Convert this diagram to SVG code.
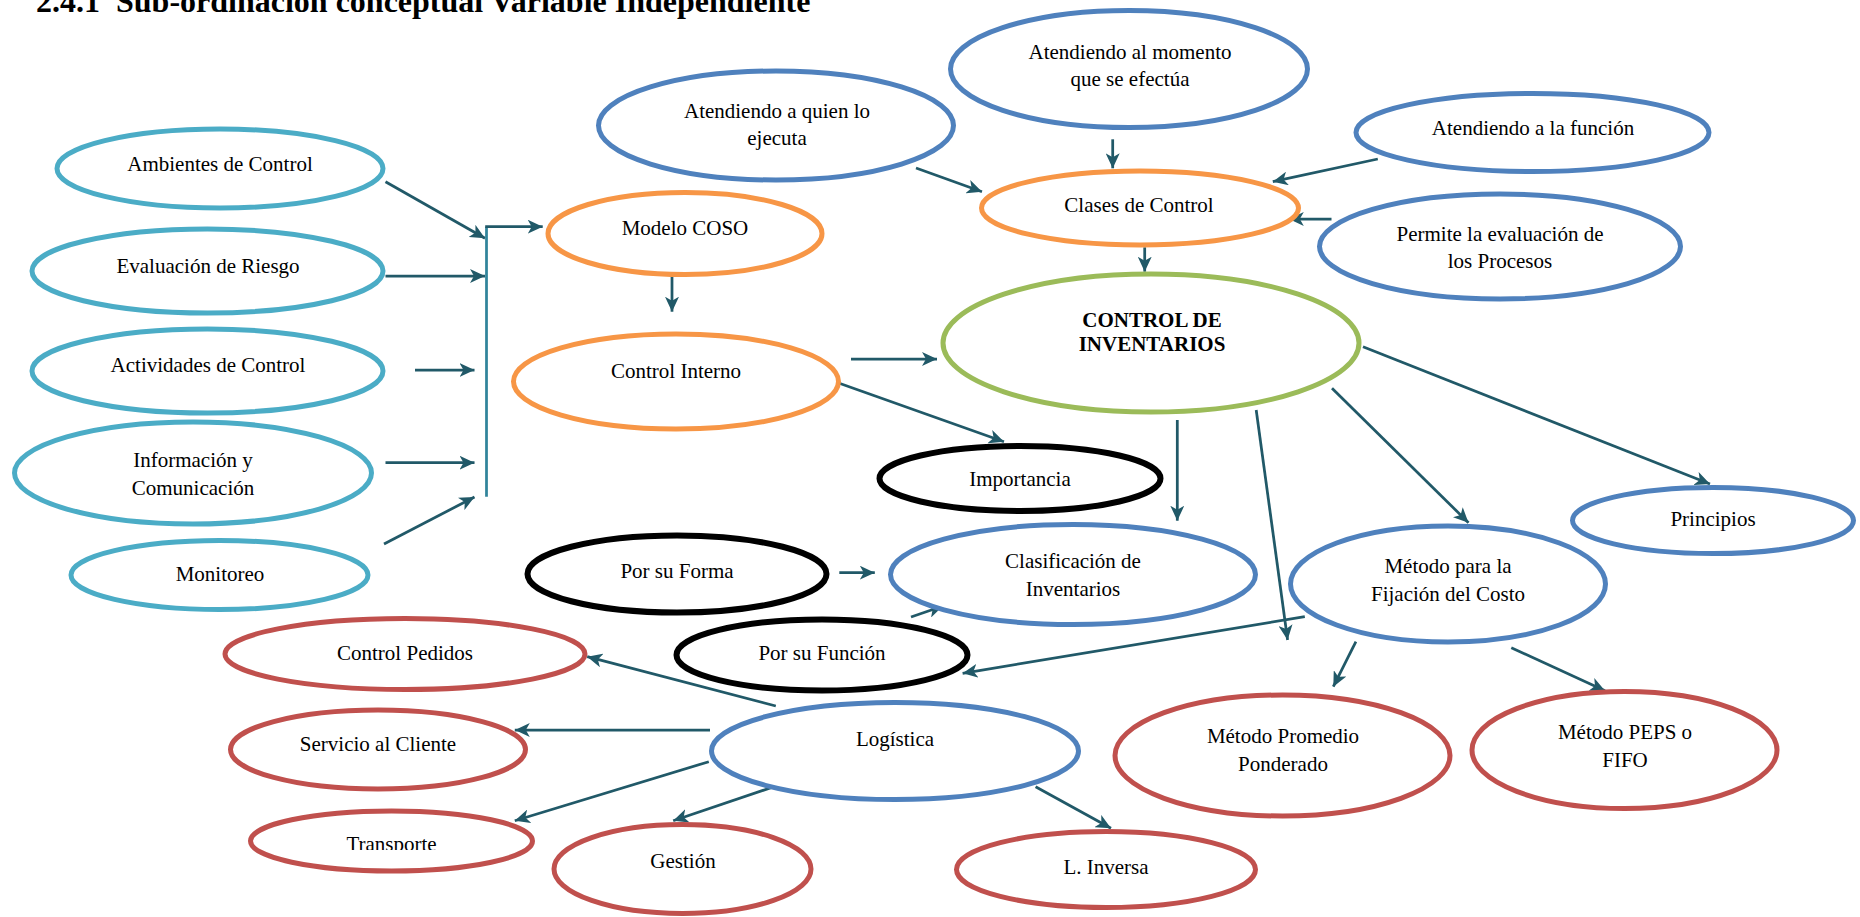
<svg xmlns="http://www.w3.org/2000/svg" width="1860" height="917" viewBox="0 0 1860 917">
  <style>
    text { font-family: "Liberation Serif", "Times New Roman", serif; font-size: 21px; fill: #000; text-anchor: middle; }
    .title { font-size: 32px; font-weight: bold; text-anchor: start; white-space: pre; }
    .bold { font-weight: bold; }
    ellipse { fill: #fff; stroke-width: 5; }
    .cyan ellipse { stroke: #4BACC6; }
    .orange ellipse { stroke: #F79646; }
    .blue ellipse { stroke: #4F81BD; }
    .green ellipse { stroke: #9BBB59; }
    .red ellipse { stroke: #C0504D; }
    .black ellipse { stroke: #000; stroke-width: 6; }
    #connectors path { fill: none; stroke: #215968; stroke-width: 2.75; }
    #connectors path.arrow { marker-end: url(#stealth); }
    #connectors path.bus { stroke: #31849B; }
  </style>
  <defs>
    <marker id="stealth" viewBox="0 0 15 14" refX="15" refY="7" markerWidth="15" markerHeight="14" markerUnits="userSpaceOnUse" orient="auto">
      <path d="M0,0 L15,7 L0,14 L4,7 z" fill="#215968"/>
    </marker>
    <clipPath id="clipTransporte">
      <rect x="0" y="0" width="1860" height="850"/>
    </clipPath>
  </defs>

  <rect width="1860" height="917" fill="#fff"/>

  <text class="title" x="36" y="12">2.4.1  Sub-ordinación conceptual Variable Independiente</text>

  <!-- connectors -->
  <g id="connectors">
    <path class="arrow" d="M385.5,181.7 L485,238.3"/>
    <path class="arrow" d="M385.5,276 L485,276"/>
    <path class="arrow" d="M415,370 L474.5,370"/>
    <path class="arrow" d="M385.5,462.7 L474.5,462.7"/>
    <path class="arrow" d="M384,544 L474.5,497"/>
    <path class="bus" d="M486.5,496.7 L486.5,226.7"/>
    <path class="arrow" d="M485.2,226.7 L542.7,226.7"/>
    <path class="arrow" d="M672,273 L672,311.7"/>
    <path class="arrow" d="M851,359 L937,359"/>
    <path class="arrow" d="M838.6,383 L1004,441.7"/>
    <path class="arrow" d="M916,168 L982,191.7"/>
    <path class="arrow" d="M1112.7,139.3 L1112.7,168.3"/>
    <path class="arrow" d="M1377.8,159 L1272.8,181.7"/>
    <path class="arrow" d="M1331.5,219 L1288.8,219"/>
    <path class="arrow" d="M1144.7,247.3 L1144.7,271.7"/>
    <path class="arrow" d="M1177.3,420 L1177.3,520.7"/>
    <path class="arrow" d="M1256.2,410 L1287.6,640"/>
    <path class="arrow" d="M1332,388.3 L1468.5,522.7"/>
    <path class="arrow" d="M1363,346.7 L1710,484"/>
    <path class="arrow" d="M839.3,572.7 L874.8,572.7"/>
    <path class="arrow" d="M911,617 L943,606"/>
    <path class="arrow" d="M1304.8,616.7 L962.6,673.3"/>
    <path class="arrow" d="M1355.9,641.7 L1333.3,686.7"/>
    <path class="arrow" d="M1511.3,647.7 L1605,690.7"/>
    <path class="arrow" d="M775.8,706 L587.2,656.7"/>
    <path class="arrow" d="M710,730 L514.8,730"/>
    <path class="arrow" d="M708.8,761.7 L514.8,820.7"/>
    <path class="arrow" d="M774,786.7 L673.2,820.7"/>
    <path class="arrow" d="M1035.6,786.7 L1111,828.3"/>
  </g>

  <!-- COSO components -->
  <g id="ambientes" class="cyan">
    <ellipse cx="220" cy="168.5" rx="163" ry="39.5"/>
    <text x="220" y="171">Ambientes de Control</text>
  </g>
  <g id="evaluacion" class="cyan">
    <ellipse cx="207.5" cy="271" rx="175.5" ry="42"/>
    <text x="208" y="273">Evaluación de Riesgo</text>
  </g>
  <g id="actividades" class="cyan">
    <ellipse cx="207.5" cy="371" rx="175.5" ry="42"/>
    <text x="208" y="372">Actividades de Control</text>
  </g>
  <g id="informacion" class="cyan">
    <ellipse cx="193" cy="473" rx="178.5" ry="51"/>
    <text x="193" y="467">Información y</text>
    <text x="193" y="495">Comunicación</text>
  </g>
  <g id="monitoreo" class="cyan">
    <ellipse cx="219.5" cy="575" rx="148.5" ry="34.5"/>
    <text x="220" y="581">Monitoreo</text>
  </g>

  <!-- COSO / internal control -->
  <g id="modelo-coso" class="orange">
    <ellipse cx="685" cy="233.5" rx="137" ry="41"/>
    <text x="685" y="235">Modelo COSO</text>
  </g>
  <g id="control-interno" class="orange">
    <ellipse cx="676" cy="381.5" rx="162.5" ry="47.5"/>
    <text x="676" y="378">Control Interno</text>
  </g>

  <!-- classes of control -->
  <g id="atendiendo-quien" class="blue">
    <ellipse cx="776" cy="125.5" rx="177.5" ry="54.5"/>
    <text x="777" y="118">Atendiendo a quien lo</text>
    <text x="777" y="145">ejecuta</text>
  </g>
  <g id="atendiendo-momento" class="blue">
    <ellipse cx="1129" cy="69" rx="178.5" ry="58.5"/>
    <text x="1130" y="59">Atendiendo al momento</text>
    <text x="1130" y="86">que se efectúa</text>
  </g>
  <g id="clases-control" class="orange">
    <ellipse cx="1140" cy="208" rx="158.5" ry="37"/>
    <text x="1139" y="212">Clases de Control</text>
  </g>
  <g id="atendiendo-funcion" class="blue">
    <ellipse cx="1532.5" cy="132.5" rx="176.5" ry="39"/>
    <text x="1533" y="135">Atendiendo a la función</text>
  </g>
  <g id="permite-evaluacion" class="blue">
    <ellipse cx="1500" cy="246.5" rx="180.5" ry="52.5"/>
    <text x="1500" y="241">Permite la evaluación de</text>
    <text x="1500" y="268">los Procesos</text>
  </g>

  <!-- central concept -->
  <g id="control-inventarios" class="green">
    <ellipse cx="1151" cy="343" rx="208" ry="69"/>
    <text class="bold" x="1152" y="327">CONTROL DE</text>
    <text class="bold" x="1152" y="351">INVENTARIOS</text>
  </g>

  <g id="importancia" class="black">
    <ellipse cx="1020" cy="478.5" rx="140.5" ry="32.5"/>
    <text x="1020" y="486">Importancia</text>
  </g>
  <g id="clasificacion" class="blue">
    <ellipse cx="1073" cy="574.5" rx="182.5" ry="50"/>
    <text x="1073" y="568">Clasificación de</text>
    <text x="1073" y="596">Inventarios</text>
  </g>
  <g id="principios" class="blue">
    <ellipse cx="1713" cy="520.5" rx="140.5" ry="33"/>
    <text x="1713" y="526">Principios</text>
  </g>
  <g id="metodo-fijacion" class="blue">
    <ellipse cx="1448" cy="584" rx="157.5" ry="58"/>
    <text x="1448" y="573">Método para la</text>
    <text x="1448" y="601">Fijación del Costo</text>
  </g>

  <g id="por-su-forma" class="black">
    <ellipse cx="677" cy="574" rx="149.5" ry="38.5"/>
    <text x="677" y="578">Por su Forma</text>
  </g>
  <g id="por-su-funcion" class="black">
    <ellipse cx="822" cy="655" rx="145.5" ry="35.5"/>
    <text x="822" y="660">Por su Función</text>
  </g>

  <!-- logistics -->
  <g id="control-pedidos" class="red">
    <ellipse cx="405" cy="654" rx="180" ry="35.5"/>
    <text x="405" y="660">Control Pedidos</text>
  </g>
  <g id="servicio-cliente" class="red">
    <ellipse cx="378" cy="749.5" rx="147.5" ry="39.5"/>
    <text x="378" y="751">Servicio al Cliente</text>
  </g>
  <g id="transporte" class="red">
    <ellipse cx="391.5" cy="841" rx="141" ry="30"/>
    <text x="391.5" y="851" clip-path="url(#clipTransporte)">Transporte</text>
  </g>
  <g id="gestion" class="red">
    <ellipse cx="682.5" cy="869" rx="128.5" ry="44.5"/>
    <text x="683" y="868">Gestión</text>
  </g>
  <g id="logistica" class="blue">
    <ellipse cx="895" cy="751" rx="183.5" ry="48.5"/>
    <text x="895" y="746">Logística</text>
  </g>
  <g id="l-inversa" class="red">
    <ellipse cx="1106" cy="869.5" rx="149.5" ry="38"/>
    <text x="1106" y="874">L. Inversa</text>
  </g>

  <!-- costing methods -->
  <g id="metodo-promedio" class="red">
    <ellipse cx="1282.5" cy="755.5" rx="167.5" ry="60.5"/>
    <text x="1283" y="743">Método Promedio</text>
    <text x="1283" y="771">Ponderado</text>
  </g>
  <g id="metodo-peps" class="red">
    <ellipse cx="1624.5" cy="750" rx="152.5" ry="58.5"/>
    <text x="1625" y="739">Método PEPS o</text>
    <text x="1625" y="767">FIFO</text>
  </g>
</svg>
